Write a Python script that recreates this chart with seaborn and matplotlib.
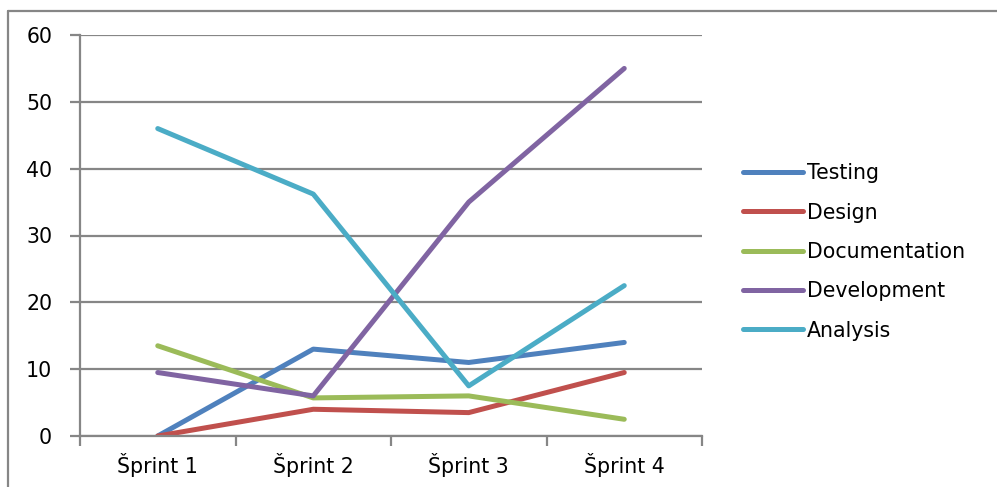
import numpy as np
import pandas as pd
import matplotlib
matplotlib.use('Agg')
import matplotlib.pyplot as plt
from matplotlib.lines import Line2D
import seaborn as sns

# ─── Data ─────────────────────────────────────────────────────────────────────
sprints = ['Šprint 1', 'Šprint 2', 'Šprint 3', 'Šprint 4']
testing = [0, 13, 11, 14]
design = [0, 4, 3.5, 9.5]
documentation = [13.5, 5.7, 6, 2.5]
development = [9.5, 6, 35, 55]
analysis = [46, 36.2, 7.5, 22.5]

series_names = ['Testing', 'Design', 'Documentation', 'Development', 'Analysis']
series_values = [testing, design, documentation, development, analysis]
colors = ['#4F81BD', '#C0504D', '#9BBB59', '#8064A2', '#4BACC6']

df = pd.DataFrame({
    'sprint': sprints * len(series_names),
    'value': np.concatenate(series_values),
    'task': np.repeat(series_names, len(sprints)),
})

# ─── Plot ─────────────────────────────────────────────────────────────────────
sns.set_style('white')
plt.rcParams['font.family'] = ['DejaVu Sans']
plt.rcParams['text.color'] = 'black'
plt.rcParams['xtick.labelcolor'] = 'black'
plt.rcParams['ytick.labelcolor'] = 'black'

grey = '#868686'
fs = 14.8
lw = 3.6
fig = plt.figure(figsize=(9.97, 4.87), dpi=100)
ax = fig.add_axes([80 / 997, 1 - 436 / 487, 622 / 997, 401 / 487])

sns.lineplot(data=df, x='sprint', y='value', hue='task', hue_order=series_names,
             palette=colors, linewidth=lw, sort=False, ax=ax,
             solid_capstyle='round', solid_joinstyle='round', legend=False)

ax.set_xlim(-0.5, len(sprints) - 0.5)
ax.set_ylim(0, 60)
ax.set_yticks(np.arange(0, 61, 10))
ax.set_xticks(range(len(sprints)))
ax.set_xticklabels(sprints)
ax.set_xticks(np.arange(-0.5, len(sprints), 1), minor=True)
ax.set_xlabel('')
ax.set_ylabel('')

ax.grid(axis='y', color=grey, linewidth=1.6, zorder=0)
ax.grid(axis='x', visible=False)
ax.set_axisbelow(True)
for side in ['top', 'right']:
    ax.spines[side].set_visible(False)
for side in ['left', 'bottom']:
    ax.spines[side].set_color(grey)
    ax.spines[side].set_linewidth(1.6)

ax.tick_params(axis='y', which='major', length=7, width=1.6, color=grey,
               labelsize=fs, labelcolor='black', pad=13, direction='out', left=True)
ax.tick_params(axis='x', which='major', length=0, labelsize=fs,
               labelcolor='black', pad=12)
ax.tick_params(axis='x', which='minor', length=7, width=1.6, color=grey,
               direction='out', bottom=True)

# legend
handles = [Line2D([0], [0], color=c, linewidth=lw, solid_capstyle='round')
           for c in colors]
leg = fig.legend(handles, series_names, loc='upper left',
                 bbox_to_anchor=(735 / 997, 1 - 155 / 487), frameon=False,
                 fontsize=fs, handlelength=2.9, handletextpad=0.2,
                 labelspacing=0.94, borderaxespad=0)
for t in leg.get_texts():
    t.set_color('black')

# outer chart border (left and top edges visible)
fig.add_artist(Line2D([8 / 997, 8 / 997], [0, 1 - 11 / 487],
                      transform=fig.transFigure, color=grey, linewidth=1.6))
fig.add_artist(Line2D([8 / 997, 1], [1 - 11 / 487, 1 - 11 / 487],
                      transform=fig.transFigure, color=grey, linewidth=1.6))

fig.savefig('out.png', dpi=100)
plt.close(fig)
